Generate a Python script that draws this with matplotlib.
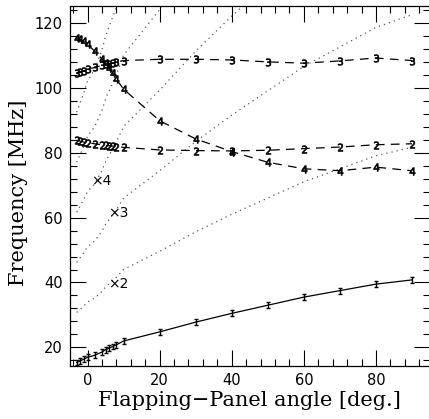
import matplotlib
matplotlib.use('Agg')
import matplotlib.pyplot as plt
from matplotlib.ticker import MultipleLocator

# panel angle [deg] of the measured points
angle = [-3, -2, -1, 0, 2, 4, 5, 6, 7, 8, 10, 20, 30, 40, 50, 60, 70, 80, 90]

# measured frequencies [MHz] for each mode
mode1 = [15.4, 15.9, 16.4, 17.0, 17.6, 18.6, 19.3, 19.8, 20.3, 20.8, 22.0,
         24.8, 27.8, 30.5, 33.0, 35.5, 37.5, 39.5, 40.8]
mode2 = [83.8, 83.5, 83.2, 83.0, 82.7, 82.4, 82.2, 82.1, 82.0, 81.8, 81.6,
         80.8, 80.6, 80.5, 80.7, 81.2, 81.7, 82.4, 82.7]
mode3 = [104.6, 104.9, 105.2, 105.6, 106.2, 106.8, 107.1, 107.4, 107.6, 107.9, 108.3,
         108.7, 108.7, 108.5, 107.9, 107.5, 108.2, 109.1, 108.3]
mode4 = [115.3, 114.8, 114.2, 113.3, 111.2, 108.8, 107.5, 106.0, 104.5, 102.6, 99.5,
         89.8, 84.2, 80.3, 77.0, 75.0, 74.4, 75.5, 74.4]
mode1_err = 0.9

harmonics = [2, 3, 4, 5, 6]
harm_labels = ['\u00d72', '\u00d73', '\u00d74']
harm_label_pos = [(5.8, 39.5), (5.8, 61.5), (1.0, 71.3)]

fig = plt.figure(figsize=(4.29, 4.19), dpi=100)
ax = fig.add_axes([69.5 / 429, 1 - 366 / 419, 360.5 / 429, 360 / 419])

# harmonics of the fundamental (dotted)
for k in harmonics:
    ax.plot(angle, [k * v for v in mode1], ls=(0, (1, 3.2)), lw=0.9, color='0.35')

# fundamental: solid line with error bars
ax.plot(angle, mode1, color='black', lw=0.9)
ax.errorbar(angle, mode1, yerr=mode1_err, fmt='none', ecolor='black',
            elinewidth=1.0, capsize=1.4, capthick=1.0)

for vals, m in [(mode2, '2'), (mode3, '3'), (mode4, '4')]:
    ax.plot(angle, vals, color='black', lw=0.9, ls=(0, (7, 5)))
    ax.plot(angle, vals, ls='none', marker='$' + m + '$', ms=5.5,
            mec='black', mfc='black', mew=0.5)

for txt, (x, y) in zip(harm_labels, harm_label_pos):
    ax.text(x, y, txt, fontsize=10, ha='left', va='center', family='DejaVu Sans')

ax.set_xlim(-5, 95)
ax.set_ylim(14.3, 125.1)
ax.xaxis.set_major_locator(MultipleLocator(20))
ax.xaxis.set_minor_locator(MultipleLocator(4))
ax.yaxis.set_major_locator(MultipleLocator(20))
ax.yaxis.set_minor_locator(MultipleLocator(4))
ax.tick_params(which='both', direction='in', top=True, right=True,
               labelsize=10.5, width=0.8)
ax.tick_params(which='major', length=11.5, pad=5)
ax.tick_params(which='minor', length=4.7)
for s in ax.spines.values():
    s.set_linewidth(0.9)

ax.set_xlabel('Flapping\u2212Panel angle [deg.]', family='DejaVu Serif', fontsize=15)
ax.set_ylabel('Frequency [MHz]', family='DejaVu Serif', fontsize=15)
ax.xaxis.set_label_coords(0.5, -0.07)
ax.yaxis.set_label_coords(-0.115, 0.48)

fig.savefig('out.png', dpi=100)
